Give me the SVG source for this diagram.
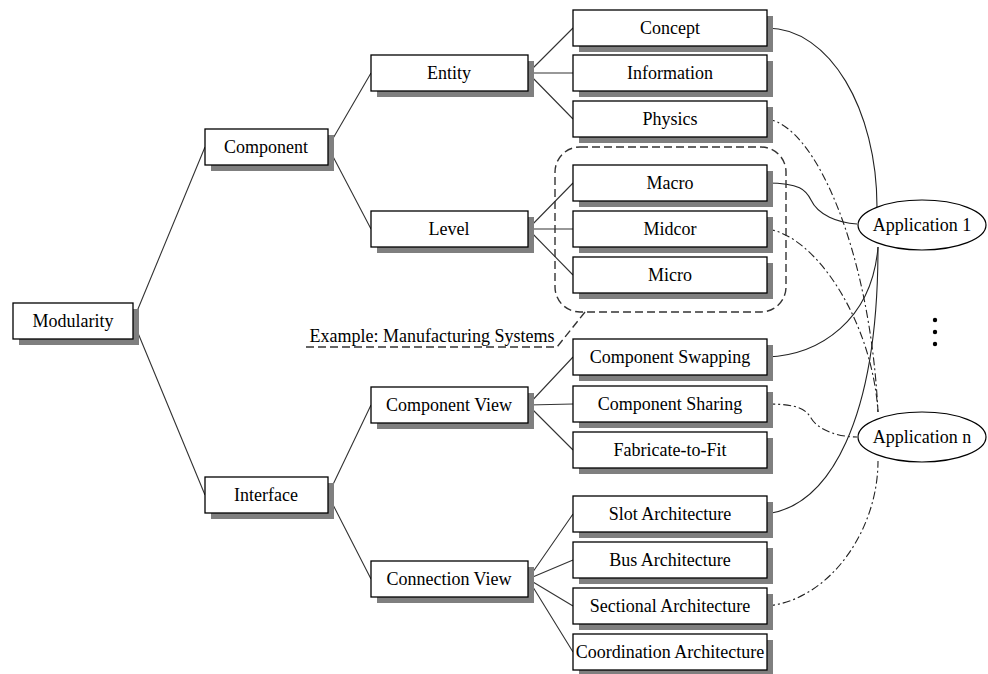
<svg xmlns="http://www.w3.org/2000/svg" width="988" height="674" viewBox="0 0 988 674">
  <style>
    .box rect.shadow { fill: #7f7f7f; }
    .box rect.face { fill: #ffffff; stroke: #000; stroke-width: 1.3; }
    text { font-family: 'Liberation Serif', 'Times New Roman', Times, 'DejaVu Serif', serif; font-size: 18px; fill: #000; text-anchor: middle; }
    .tree { fill: none; stroke: #333; stroke-width: 1.1; }
    .solid { fill: none; stroke: #222; stroke-width: 1.1; }
    .dashdot { fill: none; stroke: #222; stroke-width: 1.1; stroke-dasharray: 8 3 2 3; }
    .dash { fill: none; stroke: #333; stroke-width: 1.4; stroke-dasharray: 8 4; }
    ellipse.app { fill: #fff; stroke: #000; stroke-width: 1.2; }
  </style>

  <!-- tree connectors -->
  <g id="connectors">
    <g class="tree">
      <path d="M133,321 L205,147 M133,321 L205,495"/>
      <path d="M328,147 L371,73 M328,147 L371,229"/>
      <path d="M328,495 L371,405 M328,495 L371,579"/>
      <path d="M528,73 L573,28 M528,73 L573,73 M528,73 L573,119"/>
      <path d="M528,229 L573,183 M528,229 L573,229 M528,229 L573,275"/>
      <path d="M528,405 L573,357 M528,405 L573,404 M528,405 L573,450"/>
      <path d="M528,579 L573,514 M528,579 L573,560 M528,579 L573,606 M528,579 L573,652"/>
    </g>
    <!-- links to applications -->
    <path class="solid" d="M767,28 C830,28 877,110 877,207"/>
    <path class="dashdot" d="M767,119 C815,125 870,250 878,412"/>
    <path class="solid" d="M767,183 C800,183 806,190 811,200 C818,215 838,223 857,224"/>
    <path class="dashdot" d="M767,229 C815,235 872,320 878,412"/>
    <path class="solid" d="M767,357 C820,355 872,320 878,247"/>
    <path class="dashdot" d="M767,404 C800,404 806,410 811,418 C818,430 838,437 857,437"/>
    <path class="solid" d="M767,514 C830,505 878,420 878,247"/>
    <path class="dashdot" d="M767,606 C830,600 878,530 878,461"/>
    <!-- example callout -->
    <rect class="dash" x="555" y="147" width="231" height="165" rx="25" ry="25"/>
    <path class="dash" d="M306,347 L557,347 L585,312"/>
  </g>

  <text x="432" y="342">Example: Manufacturing Systems</text>

  <g id="modularity" class="box"><rect class="shadow" x="19" y="309" width="120" height="36"/><rect class="face" x="13" y="303" width="120" height="36"/><text x="73" y="327">Modularity</text></g>

  <g id="component" class="box"><rect class="shadow" x="211" y="135" width="123" height="36"/><rect class="face" x="205" y="129" width="123" height="36"/><text x="266" y="153">Component</text></g>
  <g id="interface" class="box"><rect class="shadow" x="211" y="483" width="123" height="36"/><rect class="face" x="205" y="477" width="123" height="36"/><text x="266" y="501">Interface</text></g>

  <g id="entity" class="box"><rect class="shadow" x="377" y="61" width="157" height="36"/><rect class="face" x="371" y="55" width="157" height="36"/><text x="449" y="79">Entity</text></g>
  <g id="level" class="box"><rect class="shadow" x="377" y="217" width="157" height="36"/><rect class="face" x="371" y="211" width="157" height="36"/><text x="449" y="235">Level</text></g>
  <g id="component-view" class="box"><rect class="shadow" x="377" y="393" width="157" height="36"/><rect class="face" x="371" y="387" width="157" height="36"/><text x="449" y="411">Component View</text></g>
  <g id="connection-view" class="box"><rect class="shadow" x="377" y="567" width="157" height="36"/><rect class="face" x="371" y="561" width="157" height="36"/><text x="449" y="585">Connection View</text></g>

  <g id="concept" class="box"><rect class="shadow" x="579" y="16" width="194" height="36"/><rect class="face" x="573" y="10" width="194" height="36"/><text x="670" y="34">Concept</text></g>
  <g id="information" class="box"><rect class="shadow" x="579" y="61" width="194" height="36"/><rect class="face" x="573" y="55" width="194" height="36"/><text x="670" y="79">Information</text></g>
  <g id="physics" class="box"><rect class="shadow" x="579" y="107" width="194" height="36"/><rect class="face" x="573" y="101" width="194" height="36"/><text x="670" y="125">Physics</text></g>
  <g id="macro" class="box"><rect class="shadow" x="579" y="171" width="194" height="36"/><rect class="face" x="573" y="165" width="194" height="36"/><text x="670" y="189">Macro</text></g>
  <g id="midcor" class="box"><rect class="shadow" x="579" y="217" width="194" height="36"/><rect class="face" x="573" y="211" width="194" height="36"/><text x="670" y="235">Midcor</text></g>
  <g id="micro" class="box"><rect class="shadow" x="579" y="263" width="194" height="36"/><rect class="face" x="573" y="257" width="194" height="36"/><text x="670" y="281">Micro</text></g>
  <g id="component-swapping" class="box"><rect class="shadow" x="579" y="345" width="194" height="36"/><rect class="face" x="573" y="339" width="194" height="36"/><text x="670" y="363">Component Swapping</text></g>
  <g id="component-sharing" class="box"><rect class="shadow" x="579" y="392" width="194" height="36"/><rect class="face" x="573" y="386" width="194" height="36"/><text x="670" y="410">Component Sharing</text></g>
  <g id="fabricate-to-fit" class="box"><rect class="shadow" x="579" y="438" width="194" height="36"/><rect class="face" x="573" y="432" width="194" height="36"/><text x="670" y="456">Fabricate-to-Fit</text></g>
  <g id="slot-architecture" class="box"><rect class="shadow" x="579" y="502" width="194" height="36"/><rect class="face" x="573" y="496" width="194" height="36"/><text x="670" y="520">Slot Architecture</text></g>
  <g id="bus-architecture" class="box"><rect class="shadow" x="579" y="548" width="194" height="36"/><rect class="face" x="573" y="542" width="194" height="36"/><text x="670" y="566">Bus Architecture</text></g>
  <g id="sectional-architecture" class="box"><rect class="shadow" x="579" y="594" width="194" height="36"/><rect class="face" x="573" y="588" width="194" height="36"/><text x="670" y="612">Sectional Architecture</text></g>
  <g id="coordination-architecture" class="box"><rect class="shadow" x="579" y="640" width="194" height="36"/><rect class="face" x="573" y="634" width="194" height="36"/><text x="670" y="658">Coordination Architecture</text></g>

  <g id="application-1"><ellipse class="app" cx="922" cy="225" rx="64" ry="25"/><text x="922" y="231">Application 1</text></g>
  <g id="application-n"><ellipse class="app" cx="922" cy="437" rx="64" ry="25"/><text x="922" y="443">Application n</text></g>

  <g id="ellipsis" fill="#000">
    <circle cx="935" cy="320" r="2.2"/>
    <circle cx="935" cy="332" r="2.2"/>
    <circle cx="935" cy="344" r="2.2"/>
  </g>
</svg>
